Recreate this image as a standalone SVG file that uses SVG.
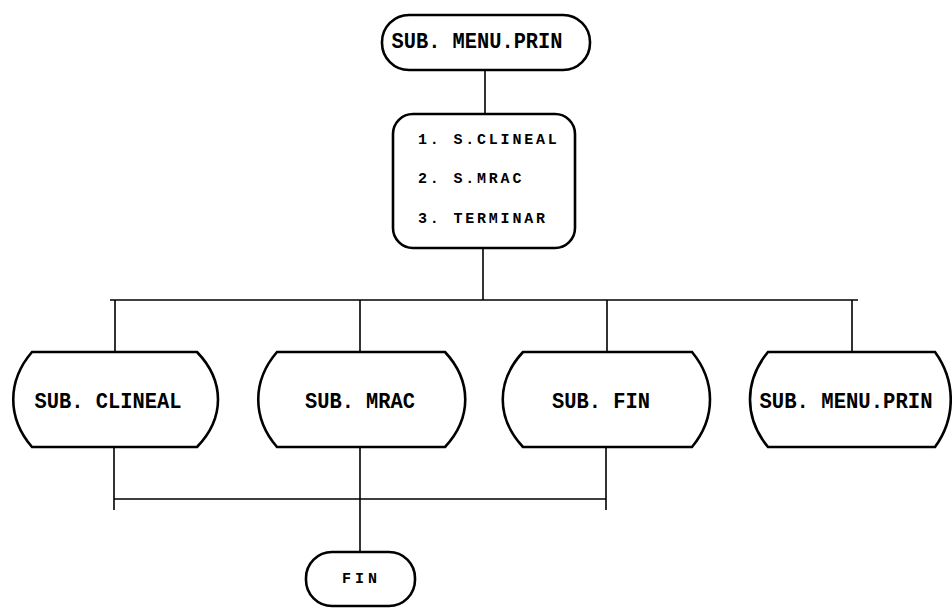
<svg xmlns="http://www.w3.org/2000/svg" width="952" height="608" viewBox="0 0 952 608">
<style>
.shape{fill:#fff;stroke:#000;stroke-width:2.6}
.conn{fill:none;stroke:#000;stroke-width:1.6}
.big{font-family:"Liberation Mono","DejaVu Sans Mono",monospace;font-weight:bold;font-size:22px;fill:#000}
.small{font-family:"Liberation Mono","DejaVu Sans Mono",monospace;font-weight:bold;font-size:15px;letter-spacing:2.8px;fill:#000}
</style>
<rect width="952" height="608" fill="#fff"/>
<g id="connectors" class="conn">
<path d="M485 70V114"/>
<path d="M483 248V300"/>
<path d="M110 300H858"/>
<path d="M115 300V352M360 300V352M607 300V352M852 300V352"/>
<path d="M114 447V510M606 447V510M114 499H606"/>
<path d="M360 447V552"/>
</g>
<g id="sub-menu-prin-top">
<rect class="shape" x="382" y="15" width="208" height="55" rx="27" ry="27"/>
<text class="big" x="477" y="48" text-anchor="middle" textLength="171" lengthAdjust="spacingAndGlyphs">SUB. MENU.PRIN</text>
</g>
<g id="menu">
<rect class="shape" x="393" y="114" width="182" height="134" rx="20" ry="20"/>
<text class="small" x="418" y="144">1. S.CLINEAL</text>
<text class="small" x="418" y="183">2. S.MRAC</text>
<text class="small" x="418" y="223">3. TERMINAR</text>
</g>
<g id="sub-clineal">
<path class="shape" d="M32 352H197C225 381 225 418 197 447H32C7 418 7 381 32 352Z"/>
<text class="big" x="108" y="408" text-anchor="middle" textLength="147" lengthAdjust="spacingAndGlyphs">SUB. CLINEAL</text>
</g>
<g id="sub-mrac">
<path class="shape" d="M277 352H445C472 381 472 418 445 447H277C252 418 252 381 277 352Z"/>
<text class="big" x="360" y="408" text-anchor="middle" textLength="110" lengthAdjust="spacingAndGlyphs">SUB. MRAC</text>
</g>
<g id="sub-fin">
<path class="shape" d="M523 352H692C716 381 716 418 692 447H523C496 418 496 381 523 352Z"/>
<text class="big" x="601" y="408" text-anchor="middle" textLength="98" lengthAdjust="spacingAndGlyphs">SUB. FIN</text>
</g>
<g id="sub-menu-prin">
<path class="shape" d="M768 352H935C956 381 956 418 935 447H768C744 418 744 381 768 352Z"/>
<text class="big" x="846" y="408" text-anchor="middle" textLength="173" lengthAdjust="spacingAndGlyphs">SUB. MENU.PRIN</text>
</g>
<g id="fin">
<rect class="shape" x="306" y="552" width="109" height="54" rx="26" ry="26"/>
<text class="small" x="342" y="583" style="letter-spacing:4px">FIN</text>
</g>
</svg>
